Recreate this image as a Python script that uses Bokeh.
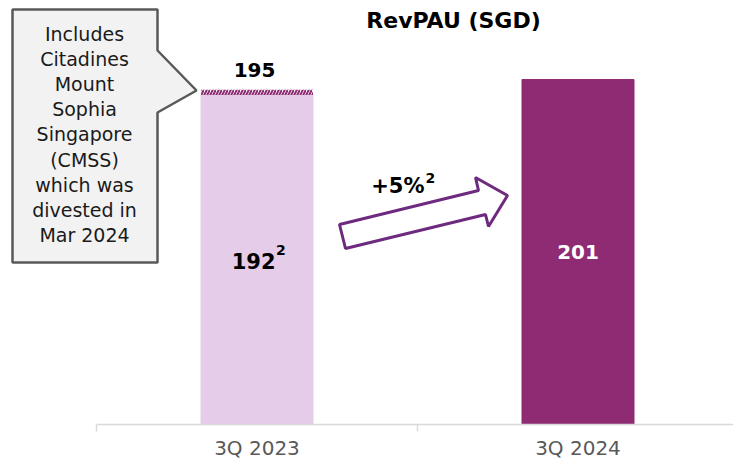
from bokeh.plotting import figure
from bokeh.models import Range1d, FixedTicker, ColumnDataSource
from bokeh.core.properties import value
from bokeh.embed import file_html
from bokeh.resources import INLINE

# ---- data ----
categories = ["3Q 2023", "3Q 2024"]
revpau = [192, 201]            # reported RevPAU (SGD)
incl_cmss = [195, None]        # 3Q 2023 including CMSS
growth_label = "+5%"
title_text = "RevPAU (SGD)"
note_lines = ["Includes", "Citadines", "Mount", "Sophia", "Singapore",
              "(CMSS)", "which was", "divested in", "Mar 2024"]

FONT = "DejaVu Sans"
LIGHT = "#E5CCE8"
DARK = "#8E2B73"

# pixel geometry helpers (frame covers the whole 733x460 canvas; value 0 at y=424)
PX_PER_CAT = 321.0
X0_PX = 256.5
PX_PER_UNIT = 345.0 / 201.0
def dx(px):
    return (px - X0_PX) / PX_PER_CAT
def dy(py):
    return (424.0 - py) / PX_PER_UNIT
def ty(py):  # text baseline position (compensates renderer baseline offset)
    return dy(py - 8)

p = figure(width=733, height=460, output_backend="svg", toolbar_location=None,
           x_range=Range1d(dx(0), dx(733)), y_range=Range1d(dy(460), dy(0)),
           min_border_left=0, min_border_right=0, min_border_top=0, min_border_bottom=0)
p.outline_line_color = None
p.grid.visible = False
p.yaxis.visible = False
p.background_fill_color = "white"

xs = list(range(len(categories)))
bar_w = 112.0 / PX_PER_CAT

# bars
src = ColumnDataSource(dict(x=xs, top=revpau, color=[LIGHT, DARK]))
p.vbar(x="x", top="top", bottom=0, width=bar_w, color="color", source=src)

# CMSS hatched sliver on 3Q 2023
p.vbar(x=[xs[0]], bottom=[revpau[0]], top=[incl_cmss[0]], width=bar_w,
       fill_color="white", line_color=None,
       hatch_pattern="/", hatch_color=DARK, hatch_weight=2, hatch_scale=6)

# x axis
ax = p.xaxis[0]
ax.fixed_location = 0
ax.bounds = (dx(96), dx(733))
ax.ticker = FixedTicker(ticks=xs, minor_ticks=[x - 0.5 for x in xs] + [xs[-1] + 0.5])
ax.major_label_overrides = {i: c for i, c in zip(xs, categories)}
ax.major_tick_line_color = None
ax.major_tick_out = 0
ax.major_tick_in = 0
ax.minor_tick_out = 7
ax.minor_tick_in = 0
ax.minor_tick_line_color = "#D9D9D9"
ax.minor_tick_line_width = 1.5
ax.axis_line_color = "#D9D9D9"
ax.axis_line_width = 1.5
ax.major_label_text_font = FONT
ax.major_label_text_font_size = "20px"
ax.major_label_text_color = "#595959"
ax.major_label_standoff = 4

BOLD = dict(text_font=value(FONT), text_font_style="bold", text_baseline="alphabetic")

# title
p.text(x=[dx(453)], y=[ty(28)], text=[title_text], text_font_size="22px",
       text_color="black", text_align="center", **BOLD)

# value labels
p.text(x=[dx(254)], y=[ty(77)], text=[str(incl_cmss[0])], text_font_size="20px",
       text_color="black", text_align="center", **BOLD)
p.text(x=[dx(275)], y=[ty(268)], text=[str(revpau[0])], text_font_size="21px",
       text_color="black", text_align="right", **BOLD)
p.text(x=[dx(275.5)], y=[ty(257)], text=["2"], text_font_size="14px",
       text_color="black", text_align="left", **BOLD)
p.text(x=[xs[1]], y=[ty(259)], text=[str(revpau[1])], text_font_size="20px",
       text_color="white", text_align="center", **BOLD)

# callout box
box_px = [(12, 9), (157, 9), (157, 50), (196, 90), (157, 112), (157, 262), (12, 262)]
p.patch([dx(a) for a, b in box_px], [dy(b) for a, b in box_px],
        fill_color="#F2F2F2", line_color="#595959", line_width=2.5)
p.text(x=[dx(84)] * len(note_lines),
       y=[ty(41 + 25.2 * i) for i in range(len(note_lines))],
       text=note_lines, text_font=value(FONT), text_font_size="19px",
       text_color="#1A1A1A", text_align="center", text_baseline="alphabetic")

# growth arrow
arr_px = [(339, 224), (478, 190), (475, 177), (507, 195), (488, 226), (485, 214), (345, 248)]
p.patch([dx(a) for a, b in arr_px], [dy(b) for a, b in arr_px],
        fill_color="white", line_color="#6E2A7E", line_width=3)
p.text(x=[dx(424)], y=[ty(193)], text=[growth_label], text_font_size="21px",
       text_color="black", text_align="right", **BOLD)
p.text(x=[dx(425)], y=[ty(185)], text=["2"], text_font_size="14px",
       text_color="black", text_align="left", **BOLD)

open("out.html", "w").write(file_html(p, INLINE))
